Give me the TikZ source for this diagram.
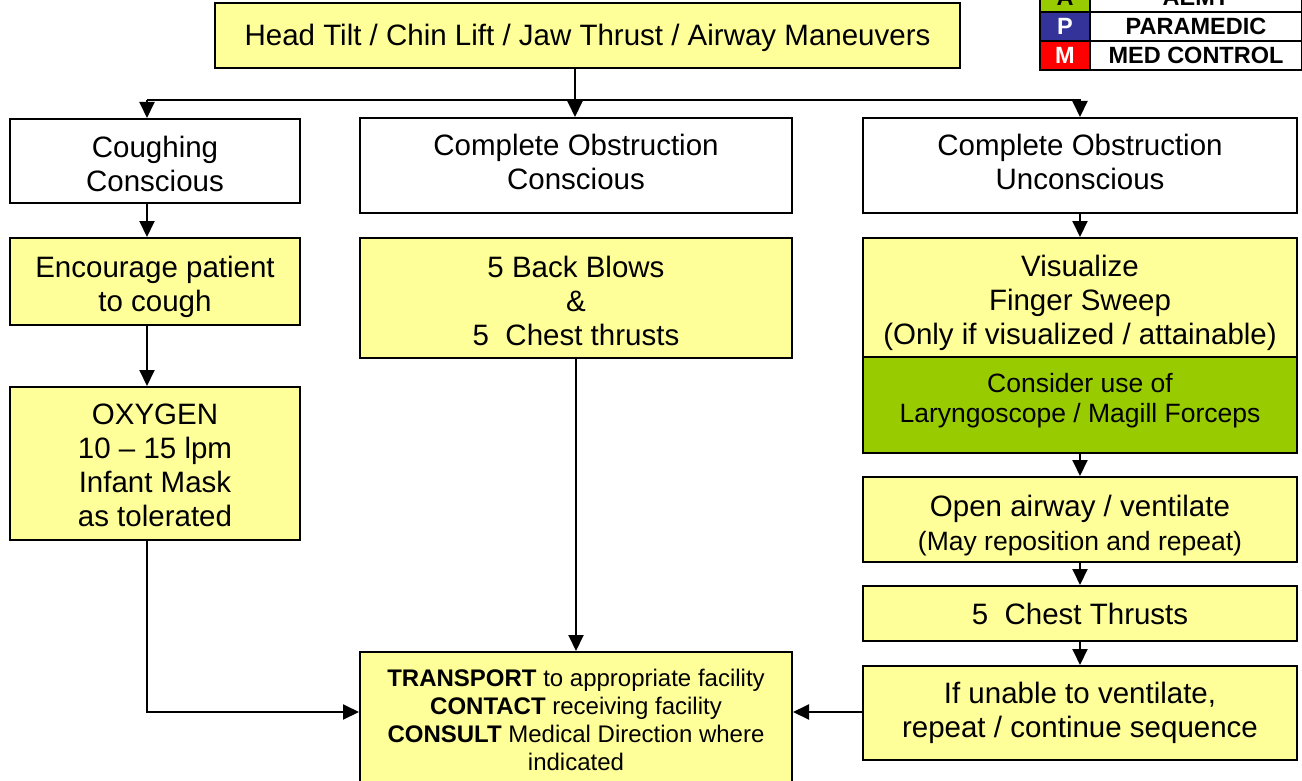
\documentclass[tikz,border=0pt]{standalone}
\usepackage{fontspec}
\setmainfont{Liberation Sans}
\usetikzlibrary{arrows.meta}
\definecolor{ylw}{HTML}{FFFF99}
\definecolor{grn}{HTML}{99CC00}
\definecolor{blu}{HTML}{333399}
\definecolor{rd}{HTML}{FF0000}
\newcommand\tx[2]{\raisebox{#1}[\height][\depth]{\begin{tabular}{@{}c@{}}#2\end{tabular}}}
\begin{document}
\begin{tikzpicture}[x=1pt,y=-1pt,
  box/.style={draw,line width=2pt,fill=white,align=center,inner sep=0pt,
    font=\fontsize{29.5}{34}\selectfont},
  yb/.style={box,fill=ylw},
  gb/.style={box,fill=grn,font=\fontsize{26.5}{30}\selectfont},
  arr/.style={line width=2pt,-{Triangle[length=16pt,width=15pt]}},
  ln/.style={line width=2pt},
  lg/.style={draw,line width=2pt,inner sep=0pt,font=\bfseries\fontsize{23.5}{24}\selectfont}]
\useasboundingbox (0,0) rectangle (1302,781);
% head
\node[yb,minimum width=745pt,minimum height=65pt] (head) at (587.5,35.5) {\tx{-3pt}{Head Tilt / Chin Lift / Jaw Thrust / Airway Maneuvers}};
% legend
\node[lg,fill=grn,minimum width=50pt,minimum height=29pt] (la) at (1065,-2.5) {A};
\node[lg,fill=white,minimum width=212pt,minimum height=29pt] (lat) at (1196,-2.5) {AEMT};
\node[lg,fill=blu,text=white,minimum width=50pt,minimum height=29pt] (lp) at (1065,26.5) {P};
\node[lg,fill=white,minimum width=212pt,minimum height=29pt] (lpt) at (1196,26.5) {PARAMEDIC};
\node[lg,fill=rd,text=white,minimum width=50pt,minimum height=29pt] (lm) at (1065,55.5) {M};
\node[lg,fill=white,minimum width=212pt,minimum height=29pt] (lmt) at (1196,55.5) {MED CONTROL};
% row 1
\node[box,minimum width=290pt,minimum height=84pt] (cough) at (155,161) {\tx{-7pt}{Coughing\\Conscious}};
\node[box,minimum width=432pt,minimum height=95pt] (cons) at (576,165.5) {\tx{-0.5pt}{Complete Obstruction\\Conscious}};
\node[box,minimum width=434pt,minimum height=95pt] (uncons) at (1080,165.5) {\tx{-0.5pt}{Complete Obstruction\\Unconscious}};
% row 2
\node[yb,minimum width=290pt,minimum height=87pt] (enc) at (155,281.5) {\tx{-6.5pt}{Encourage patient\\to cough}};
\node[yb,minimum width=432pt,minimum height=120pt] (back) at (576,298) {\tx{-7pt}{5 Back Blows\\\&\\5\ \ Chest thrusts}};
\node[yb,minimum width=434pt,minimum height=119pt] (vis) at (1080,297.5) {\tx{-6pt}{Visualize\\Finger Sweep\\(Only if visualized / attainable)}};
\node[gb,minimum width=434pt,minimum height=96pt] (lar) at (1080,405) {\tx{4pt}{Consider use of\\Laryngoscope / Magill Forceps}};
% left col
\node[yb,minimum width=290pt,minimum height=153pt] (oxy) at (155,463.5) {\tx{-5pt}{OXYGEN\\10 – 15 lpm\\Infant Mask\\as tolerated}};
% right col
\node[yb,minimum width=434pt,minimum height=85pt] (open) at (1080,519.5) {\tx{-7pt}{Open airway / ventilate\\{\fontsize{26.5}{30}\selectfont (May reposition and repeat)}}};
\node[yb,minimum width=434pt,minimum height=55pt] (chest) at (1080,613.5) {5\ \ Chest Thrusts};
\node[yb,minimum width=434pt,minimum height=94pt] (unable) at (1080,713) {If unable to ventilate,\\repeat / continue sequence};
% transport
\node[yb,minimum width=432pt,minimum height=136pt,font=\fontsize{24}{28}\selectfont] (trans) at (576,720) {\textbf{TRANSPORT} to appropriate facility\\\textbf{CONTACT} receiving facility\\\textbf{CONSULT} Medical Direction where\\indicated};
% connectors
\coordinate (j) at (575,100);
\coordinate (jl) at (147,100);
\coordinate (ty) at (0,712);
\draw[ln] (j |- head.south) -- (j);
\draw[ln] (jl) -- (j);
\draw[arr] (jl) -- (jl |- cough.north);
\draw[arr] (j) -- (j |- cons.north);
\draw[arr] (j) -| (uncons.north);
\draw[arr] (jl |- cough.south) -- (jl |- enc.north);
\draw[arr] (jl |- enc.south) -- (jl |- oxy.north);
\draw[arr] (jl |- oxy.south) |- (trans.west |- ty);
\draw[arr] (back) -- (trans);
\draw[arr] (uncons) -- (vis);
\draw[arr] (lar) -- (open);
\draw[arr] (open) -- (chest);
\draw[arr] (chest) -- (unable);
\draw[arr] (unable.west |- ty) -- (trans.east |- ty);
\end{tikzpicture}
\end{document}
